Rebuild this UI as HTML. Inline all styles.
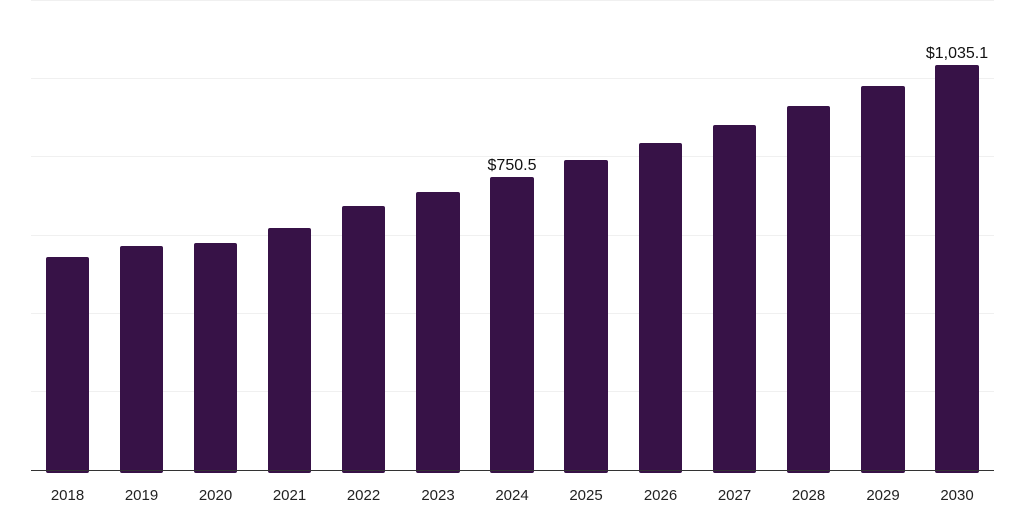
<!DOCTYPE html>
<html><head><meta charset="utf-8"><style>
html,body{margin:0;padding:0;background:#fff;}
svg{display:block;font-family:"Liberation Sans",Arial,sans-serif;}
</style></head><body>
<svg width="1024" height="512" viewBox="0 0 1024 512">
<g stroke="#f0f0f0" stroke-width="1">
<line x1="31" x2="994" y1="0.5" y2="0.5"/>
<line x1="31" x2="994" y1="78.5" y2="78.5"/>
<line x1="31" x2="994" y1="156.5" y2="156.5"/>
<line x1="31" x2="994" y1="235.5" y2="235.5"/>
<line x1="31" x2="994" y1="313.5" y2="313.5"/>
<line x1="31" x2="994" y1="391.5" y2="391.5"/>
</g>
<g fill="#371247">
<rect x="46" y="257" width="43" height="216" rx="2"/>
<rect x="120" y="246" width="43" height="227" rx="2"/>
<rect x="194" y="243" width="43" height="230" rx="2"/>
<rect x="268" y="228" width="43" height="245" rx="2"/>
<rect x="342" y="206" width="43" height="267" rx="2"/>
<rect x="416" y="192" width="44" height="281" rx="2"/>
<rect x="490" y="177" width="44" height="296" rx="2"/>
<rect x="564" y="160" width="44" height="313" rx="2"/>
<rect x="639" y="143" width="43" height="330" rx="2"/>
<rect x="713" y="125" width="43" height="348" rx="2"/>
<rect x="787" y="106" width="43" height="367" rx="2"/>
<rect x="861" y="86" width="44" height="387" rx="2"/>
<rect x="935" y="65" width="44" height="408" rx="2"/>
</g>
<line x1="31" x2="994" y1="470.5" y2="470.5" stroke="#333" stroke-width="1"/>
<g font-size="15" fill="#222" text-anchor="middle">
<text x="67.5" y="500">2018</text>
<text x="141.5" y="500">2019</text>
<text x="215.5" y="500">2020</text>
<text x="289.5" y="500">2021</text>
<text x="363.5" y="500">2022</text>
<text x="438" y="500">2023</text>
<text x="512" y="500">2024</text>
<text x="586" y="500">2025</text>
<text x="660.5" y="500">2026</text>
<text x="734.5" y="500">2027</text>
<text x="808.5" y="500">2028</text>
<text x="883" y="500">2029</text>
<text x="957" y="500">2030</text>
<text x="512" y="170" font-size="16" fill="#111">$750.5</text>
<text x="957" y="58" font-size="16" fill="#111">$1,035.1</text>
</g>
</svg>
</body></html>
